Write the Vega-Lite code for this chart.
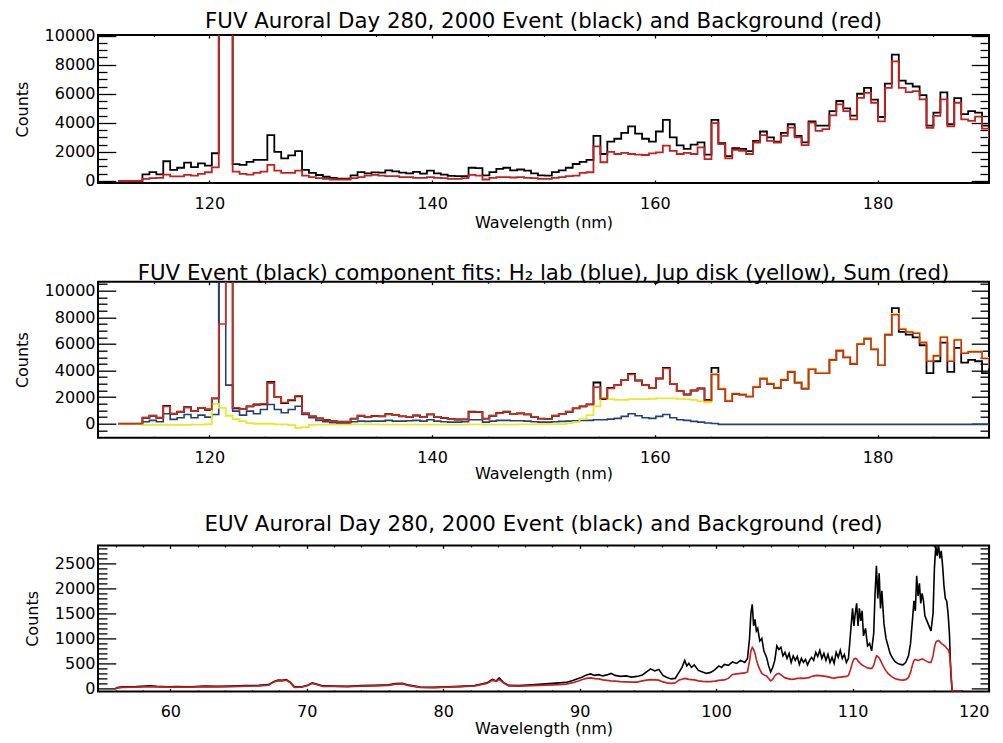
{
  "$schema": "https://vega.github.io/schema/vega-lite/v6.json",
  "background": "white",
  "padding": {"left": 13, "top": 10, "right": 5, "bottom": 0},
  "spacing": 30.7,
  "config": {
    "font": "DejaVu Sans",
    "view": {"stroke": "black", "strokeWidth": 2},
    "axis": {
      "domain": false,
      "grid": false,
      "tickColor": "black",
      "tickWidth": 1.3,
      "labelColor": "black",
      "labelFont": "DejaVu Sans",
      "labelFontSize": 16,
      "titleColor": "black",
      "titleFont": "DejaVu Sans",
      "titleFontSize": 16,
      "titleFontWeight": "normal"
    },
    "title": {"font": "DejaVu Sans", "fontSize": 21.3, "fontWeight": "normal", "color": "black", "anchor": "middle", "baseline": "alphabetic"}
  },
  "datasets": {
    "fuv": [
      {"wl": 111.81, "ev": 0, "bg": 0, "h2": 0, "dk": 0, "sm": 0},
      {"wl": 112.43, "ev": 0, "bg": 0, "h2": 0, "dk": 0, "sm": 0},
      {"wl": 113.06, "ev": 0, "bg": 0, "h2": 0, "dk": 0, "sm": 0},
      {"wl": 113.68, "ev": 0, "bg": 0, "h2": 0, "dk": 0, "sm": 0},
      {"wl": 114.30, "ev": 450, "bg": 140, "h2": 150, "dk": -80, "sm": 450},
      {"wl": 114.93, "ev": 600, "bg": 180, "h2": 250, "dk": -80, "sm": 600},
      {"wl": 115.55, "ev": 450, "bg": 200, "h2": 150, "dk": -90, "sm": 450},
      {"wl": 116.17, "ev": 1350, "bg": 430, "h2": 750, "dk": -80, "sm": 1300},
      {"wl": 116.79, "ev": 750, "bg": 300, "h2": 325, "dk": -90, "sm": 750},
      {"wl": 117.42, "ev": 900, "bg": 300, "h2": 450, "dk": -80, "sm": 900},
      {"wl": 118.04, "ev": 1250, "bg": 410, "h2": 700, "dk": -80, "sm": 1200},
      {"wl": 118.66, "ev": 950, "bg": 360, "h2": 450, "dk": -70, "sm": 950},
      {"wl": 119.29, "ev": 1200, "bg": 480, "h2": 650, "dk": -60, "sm": 1200},
      {"wl": 119.91, "ev": 1050, "bg": 590, "h2": 500, "dk": -40, "sm": 1100},
      {"wl": 120.53, "ev": 1900, "bg": 930, "h2": 700, "dk": 1500, "sm": 1900},
      {"wl": 121.16, "ev": 40000, "bg": 40000, "h2": 40000, "dk": 1200, "sm": 7500},
      {"wl": 121.78, "ev": 40000, "bg": 40000, "h2": 2900, "dk": 600, "sm": 40000},
      {"wl": 122.40, "ev": 1150, "bg": 640, "h2": 950, "dk": 350, "sm": 1200},
      {"wl": 123.02, "ev": 1100, "bg": 480, "h2": 650, "dk": 200, "sm": 1100},
      {"wl": 123.65, "ev": 1300, "bg": 430, "h2": 950, "dk": 50, "sm": 1300},
      {"wl": 124.27, "ev": 1450, "bg": 550, "h2": 750, "dk": 0, "sm": 1400},
      {"wl": 124.89, "ev": 1450, "bg": 640, "h2": 1070, "dk": 0, "sm": 1500},
      {"wl": 125.52, "ev": 3150, "bg": 1100, "h2": 1450, "dk": 0, "sm": 3050},
      {"wl": 126.14, "ev": 2000, "bg": 700, "h2": 1070, "dk": -50, "sm": 2000},
      {"wl": 126.76, "ev": 1550, "bg": 550, "h2": 825, "dk": -50, "sm": 1600},
      {"wl": 127.39, "ev": 1750, "bg": 550, "h2": 1070, "dk": -100, "sm": 1800},
      {"wl": 128.01, "ev": 2050, "bg": 700, "h2": 1320, "dk": -300, "sm": 2100},
      {"wl": 128.63, "ev": 750, "bg": 360, "h2": 700, "dk": -250, "sm": 800},
      {"wl": 129.25, "ev": 550, "bg": 250, "h2": 450, "dk": -80, "sm": 550},
      {"wl": 129.88, "ev": 400, "bg": 180, "h2": 250, "dk": -60, "sm": 400},
      {"wl": 130.50, "ev": 280, "bg": 140, "h2": 150, "dk": -60, "sm": 280},
      {"wl": 131.12, "ev": 200, "bg": 90, "h2": 75, "dk": -60, "sm": 200},
      {"wl": 131.75, "ev": 150, "bg": 90, "h2": 25, "dk": -60, "sm": 150},
      {"wl": 132.37, "ev": 150, "bg": 90, "h2": 25, "dk": -60, "sm": 150},
      {"wl": 132.99, "ev": 380, "bg": 180, "h2": 150, "dk": -50, "sm": 380},
      {"wl": 133.62, "ev": 600, "bg": 250, "h2": 200, "dk": -50, "sm": 600},
      {"wl": 134.24, "ev": 520, "bg": 360, "h2": 180, "dk": -50, "sm": 520},
      {"wl": 134.86, "ev": 580, "bg": 410, "h2": 200, "dk": -50, "sm": 580},
      {"wl": 135.48, "ev": 560, "bg": 360, "h2": 200, "dk": -60, "sm": 560},
      {"wl": 136.11, "ev": 720, "bg": 320, "h2": 250, "dk": -60, "sm": 700},
      {"wl": 136.73, "ev": 650, "bg": 320, "h2": 200, "dk": -60, "sm": 650},
      {"wl": 137.35, "ev": 560, "bg": 250, "h2": 200, "dk": -60, "sm": 560},
      {"wl": 137.98, "ev": 520, "bg": 250, "h2": 220, "dk": -60, "sm": 520},
      {"wl": 138.60, "ev": 620, "bg": 200, "h2": 250, "dk": -60, "sm": 620},
      {"wl": 139.22, "ev": 500, "bg": 200, "h2": 200, "dk": -60, "sm": 500},
      {"wl": 139.85, "ev": 700, "bg": 250, "h2": 300, "dk": -60, "sm": 700},
      {"wl": 140.47, "ev": 520, "bg": 200, "h2": 200, "dk": -60, "sm": 520},
      {"wl": 141.09, "ev": 430, "bg": 180, "h2": 150, "dk": -60, "sm": 430},
      {"wl": 141.71, "ev": 340, "bg": 140, "h2": 120, "dk": -60, "sm": 340},
      {"wl": 142.34, "ev": 320, "bg": 140, "h2": 120, "dk": -60, "sm": 320},
      {"wl": 142.96, "ev": 330, "bg": 180, "h2": 150, "dk": -60, "sm": 330},
      {"wl": 143.58, "ev": 900, "bg": 410, "h2": 300, "dk": -50, "sm": 880},
      {"wl": 144.21, "ev": 880, "bg": 360, "h2": 300, "dk": -50, "sm": 880},
      {"wl": 144.83, "ev": 380, "bg": 90, "h2": 120, "dk": -60, "sm": 380},
      {"wl": 145.45, "ev": 600, "bg": 200, "h2": 200, "dk": -60, "sm": 600},
      {"wl": 146.08, "ev": 820, "bg": 250, "h2": 250, "dk": -60, "sm": 800},
      {"wl": 146.70, "ev": 900, "bg": 250, "h2": 250, "dk": -60, "sm": 880},
      {"wl": 147.32, "ev": 720, "bg": 230, "h2": 220, "dk": -60, "sm": 720},
      {"wl": 147.94, "ev": 780, "bg": 250, "h2": 220, "dk": -50, "sm": 780},
      {"wl": 148.57, "ev": 700, "bg": 200, "h2": 200, "dk": -50, "sm": 700},
      {"wl": 149.19, "ev": 520, "bg": 180, "h2": 150, "dk": -50, "sm": 520},
      {"wl": 149.81, "ev": 380, "bg": 140, "h2": 120, "dk": -40, "sm": 380},
      {"wl": 150.44, "ev": 360, "bg": 140, "h2": 120, "dk": -40, "sm": 360},
      {"wl": 151.06, "ev": 600, "bg": 200, "h2": 150, "dk": -30, "sm": 600},
      {"wl": 151.68, "ev": 720, "bg": 250, "h2": 180, "dk": -30, "sm": 720},
      {"wl": 152.31, "ev": 900, "bg": 320, "h2": 200, "dk": 30, "sm": 900},
      {"wl": 152.93, "ev": 1160, "bg": 360, "h2": 220, "dk": 120, "sm": 1160},
      {"wl": 153.55, "ev": 1300, "bg": 550, "h2": 250, "dk": 350, "sm": 1300},
      {"wl": 154.17, "ev": 1450, "bg": 590, "h2": 250, "dk": 650, "sm": 1450},
      {"wl": 154.80, "ev": 3100, "bg": 2370, "h2": 300, "dk": 1300, "sm": 2750},
      {"wl": 155.42, "ev": 1850, "bg": 1280, "h2": 300, "dk": 1950, "sm": 1900},
      {"wl": 156.04, "ev": 2700, "bg": 2000, "h2": 350, "dk": 1850, "sm": 2650},
      {"wl": 156.67, "ev": 2900, "bg": 1850, "h2": 400, "dk": 1800, "sm": 2900},
      {"wl": 157.29, "ev": 3300, "bg": 1920, "h2": 550, "dk": 1800, "sm": 3300},
      {"wl": 157.91, "ev": 3750, "bg": 1850, "h2": 750, "dk": 1850, "sm": 3700},
      {"wl": 158.54, "ev": 3250, "bg": 1800, "h2": 600, "dk": 1850, "sm": 3250},
      {"wl": 159.16, "ev": 2900, "bg": 1780, "h2": 450, "dk": 1850, "sm": 2900},
      {"wl": 159.78, "ev": 2700, "bg": 1890, "h2": 400, "dk": 1880, "sm": 2700},
      {"wl": 160.40, "ev": 3400, "bg": 1960, "h2": 550, "dk": 1900, "sm": 3400},
      {"wl": 161.03, "ev": 4200, "bg": 2420, "h2": 700, "dk": 1900, "sm": 4150},
      {"wl": 161.65, "ev": 3000, "bg": 2070, "h2": 450, "dk": 1900, "sm": 3000},
      {"wl": 162.27, "ev": 2450, "bg": 1850, "h2": 300, "dk": 1870, "sm": 2450},
      {"wl": 162.90, "ev": 2200, "bg": 1920, "h2": 250, "dk": 1850, "sm": 2200},
      {"wl": 163.52, "ev": 2500, "bg": 1850, "h2": 180, "dk": 1800, "sm": 2500},
      {"wl": 164.14, "ev": 2650, "bg": 2300, "h2": 120, "dk": 1700, "sm": 2650},
      {"wl": 164.77, "ev": 1800, "bg": 1500, "h2": 60, "dk": 1600, "sm": 1750},
      {"wl": 165.39, "ev": 4200, "bg": 3970, "h2": 20, "dk": 3750, "sm": 3700},
      {"wl": 166.01, "ev": 2600, "bg": 2530, "h2": -50, "dk": 2650, "sm": 2600},
      {"wl": 166.63, "ev": 1700, "bg": 1550, "h2": -50, "dk": 1750, "sm": 1700},
      {"wl": 167.26, "ev": 2250, "bg": 2140, "h2": -50, "dk": 2300, "sm": 2250},
      {"wl": 167.88, "ev": 2200, "bg": 2070, "h2": -50, "dk": 2250, "sm": 2200},
      {"wl": 168.50, "ev": 2050, "bg": 1850, "h2": -50, "dk": 2100, "sm": 2050},
      {"wl": 169.13, "ev": 2750, "bg": 2640, "h2": -50, "dk": 2800, "sm": 2750},
      {"wl": 169.75, "ev": 3400, "bg": 3150, "h2": -50, "dk": 3450, "sm": 3400},
      {"wl": 170.37, "ev": 3000, "bg": 2760, "h2": -50, "dk": 3050, "sm": 3000},
      {"wl": 171.00, "ev": 2700, "bg": 2640, "h2": -50, "dk": 2750, "sm": 2700},
      {"wl": 171.62, "ev": 3300, "bg": 3100, "h2": -50, "dk": 3350, "sm": 3300},
      {"wl": 172.24, "ev": 3900, "bg": 3670, "h2": -50, "dk": 3950, "sm": 3900},
      {"wl": 172.86, "ev": 3100, "bg": 2990, "h2": -50, "dk": 3150, "sm": 3100},
      {"wl": 173.49, "ev": 2650, "bg": 2460, "h2": -50, "dk": 2700, "sm": 2650},
      {"wl": 174.11, "ev": 4100, "bg": 4010, "h2": -50, "dk": 4150, "sm": 4100},
      {"wl": 174.73, "ev": 3800, "bg": 3440, "h2": -50, "dk": 3850, "sm": 3800},
      {"wl": 175.36, "ev": 3800, "bg": 3560, "h2": -50, "dk": 3850, "sm": 3800},
      {"wl": 175.98, "ev": 4800, "bg": 4510, "h2": -50, "dk": 4850, "sm": 4800},
      {"wl": 176.60, "ev": 5500, "bg": 5270, "h2": -50, "dk": 5550, "sm": 5500},
      {"wl": 177.23, "ev": 5000, "bg": 4810, "h2": -50, "dk": 5050, "sm": 5000},
      {"wl": 177.85, "ev": 4500, "bg": 4240, "h2": -50, "dk": 4550, "sm": 4500},
      {"wl": 178.47, "ev": 6000, "bg": 5720, "h2": -50, "dk": 6050, "sm": 6000},
      {"wl": 179.09, "ev": 6400, "bg": 6060, "h2": -50, "dk": 6450, "sm": 6400},
      {"wl": 179.72, "ev": 5600, "bg": 5380, "h2": -50, "dk": 5650, "sm": 5600},
      {"wl": 180.34, "ev": 4400, "bg": 4100, "h2": -50, "dk": 4450, "sm": 4400},
      {"wl": 180.96, "ev": 6700, "bg": 6400, "h2": -50, "dk": 6750, "sm": 6700},
      {"wl": 181.59, "ev": 8700, "bg": 8230, "h2": -50, "dk": 8250, "sm": 8200},
      {"wl": 182.21, "ev": 6900, "bg": 6400, "h2": -50, "dk": 7150, "sm": 7100},
      {"wl": 182.83, "ev": 6700, "bg": 6110, "h2": -50, "dk": 6950, "sm": 6900},
      {"wl": 183.46, "ev": 6500, "bg": 6180, "h2": -50, "dk": 6850, "sm": 6800},
      {"wl": 184.08, "ev": 5900, "bg": 5610, "h2": -50, "dk": 6150, "sm": 6100},
      {"wl": 184.70, "ev": 3800, "bg": 3650, "h2": -50, "dk": 4750, "sm": 4700},
      {"wl": 185.32, "ev": 4700, "bg": 4470, "h2": -50, "dk": 5150, "sm": 5100},
      {"wl": 185.95, "ev": 6100, "bg": 5610, "h2": -50, "dk": 6550, "sm": 6500},
      {"wl": 186.57, "ev": 3900, "bg": 3750, "h2": -50, "dk": 4750, "sm": 4700},
      {"wl": 187.19, "ev": 5700, "bg": 5380, "h2": -50, "dk": 6350, "sm": 6300},
      {"wl": 187.82, "ev": 4600, "bg": 4240, "h2": -50, "dk": 5350, "sm": 5300},
      {"wl": 188.44, "ev": 4800, "bg": 4130, "h2": -50, "dk": 5450, "sm": 5400},
      {"wl": 189.06, "ev": 4700, "bg": 4420, "h2": -50, "dk": 5450, "sm": 5400},
      {"wl": 189.69, "ev": 3800, "bg": 3600, "h2": -50, "dk": 4950, "sm": 4900},
      {"wl": 190.31, "ev": 3100, "bg": 2900, "h2": -50, "dk": 4250, "sm": 4200},
      {"wl": 190.93, "ev": 3000, "bg": 2700, "h2": -50, "dk": 4050, "sm": 4000}
    ],
    "euv": [
      {"wl": 56.0, "ev": 10, "bg": 5},
      {"wl": 56.5, "ev": 30, "bg": 20},
      {"wl": 57.5, "ev": 35, "bg": 25},
      {"wl": 58.5, "ev": 50, "bg": 35},
      {"wl": 59.0, "ev": 40, "bg": 30},
      {"wl": 59.8, "ev": 30, "bg": 25},
      {"wl": 60.5, "ev": 35, "bg": 25},
      {"wl": 61.5, "ev": 30, "bg": 25},
      {"wl": 62.5, "ev": 45, "bg": 35},
      {"wl": 63.5, "ev": 40, "bg": 30},
      {"wl": 64.5, "ev": 45, "bg": 35},
      {"wl": 65.5, "ev": 55, "bg": 45},
      {"wl": 66.5, "ev": 60, "bg": 50},
      {"wl": 67.2, "ev": 75, "bg": 65},
      {"wl": 67.6, "ev": 140, "bg": 130},
      {"wl": 67.9, "ev": 165, "bg": 155},
      {"wl": 68.2, "ev": 160, "bg": 150},
      {"wl": 68.5, "ev": 175, "bg": 165},
      {"wl": 68.8, "ev": 120, "bg": 110},
      {"wl": 69.1, "ev": 30, "bg": 20},
      {"wl": 69.6, "ev": 30, "bg": 25},
      {"wl": 70.1, "ev": 70, "bg": 60},
      {"wl": 70.4, "ev": 110, "bg": 100},
      {"wl": 70.7, "ev": 90, "bg": 80},
      {"wl": 71.2, "ev": 50, "bg": 40},
      {"wl": 72.0, "ev": 45, "bg": 40},
      {"wl": 73.0, "ev": 40, "bg": 35},
      {"wl": 74.0, "ev": 55, "bg": 45},
      {"wl": 75.0, "ev": 60, "bg": 50},
      {"wl": 76.0, "ev": 70, "bg": 60},
      {"wl": 76.5, "ev": 95, "bg": 85},
      {"wl": 77.0, "ev": 100, "bg": 90},
      {"wl": 77.5, "ev": 65, "bg": 55},
      {"wl": 78.3, "ev": 25, "bg": 20},
      {"wl": 79.3, "ev": 20, "bg": 15},
      {"wl": 80.3, "ev": 30, "bg": 25},
      {"wl": 81.3, "ev": 40, "bg": 35},
      {"wl": 82.3, "ev": 55, "bg": 50},
      {"wl": 83.2, "ev": 110, "bg": 100},
      {"wl": 83.6, "ev": 180, "bg": 160},
      {"wl": 83.9, "ev": 150, "bg": 140},
      {"wl": 84.1, "ev": 210, "bg": 180},
      {"wl": 84.4, "ev": 120, "bg": 110},
      {"wl": 84.8, "ev": 60, "bg": 50},
      {"wl": 85.5, "ev": 55, "bg": 45},
      {"wl": 86.5, "ev": 70, "bg": 55},
      {"wl": 87.5, "ev": 90, "bg": 65},
      {"wl": 88.5, "ev": 110, "bg": 75},
      {"wl": 89.0, "ev": 120, "bg": 85},
      {"wl": 89.5, "ev": 160, "bg": 115},
      {"wl": 89.9, "ev": 200, "bg": 150},
      {"wl": 90.2, "ev": 230, "bg": 180},
      {"wl": 90.5, "ev": 270, "bg": 200},
      {"wl": 90.8, "ev": 290, "bg": 210},
      {"wl": 91.1, "ev": 260, "bg": 195},
      {"wl": 91.4, "ev": 275, "bg": 190},
      {"wl": 91.7, "ev": 250, "bg": 170},
      {"wl": 92.0, "ev": 270, "bg": 160},
      {"wl": 92.3, "ev": 300, "bg": 150},
      {"wl": 92.6, "ev": 260, "bg": 145},
      {"wl": 93.0, "ev": 240, "bg": 135},
      {"wl": 93.4, "ev": 250, "bg": 130},
      {"wl": 93.8, "ev": 225, "bg": 125},
      {"wl": 94.2, "ev": 240, "bg": 125},
      {"wl": 94.6, "ev": 270, "bg": 150},
      {"wl": 94.9, "ev": 330, "bg": 165},
      {"wl": 95.2, "ev": 390, "bg": 175},
      {"wl": 95.5, "ev": 350, "bg": 170},
      {"wl": 95.8, "ev": 380, "bg": 165},
      {"wl": 96.1, "ev": 260, "bg": 130},
      {"wl": 96.4, "ev": 220, "bg": 110},
      {"wl": 96.7, "ev": 190, "bg": 100},
      {"wl": 97.0, "ev": 200, "bg": 110},
      {"wl": 97.3, "ev": 330, "bg": 170},
      {"wl": 97.5, "ev": 420, "bg": 185},
      {"wl": 97.7, "ev": 560, "bg": 200},
      {"wl": 97.85, "ev": 450, "bg": 190},
      {"wl": 98.0, "ev": 500, "bg": 180},
      {"wl": 98.2, "ev": 420, "bg": 175},
      {"wl": 98.4, "ev": 470, "bg": 170},
      {"wl": 98.7, "ev": 360, "bg": 150},
      {"wl": 99.0, "ev": 330, "bg": 140},
      {"wl": 99.3, "ev": 300, "bg": 135},
      {"wl": 99.6, "ev": 320, "bg": 135},
      {"wl": 99.9, "ev": 370, "bg": 145},
      {"wl": 100.2, "ev": 450, "bg": 160},
      {"wl": 100.4, "ev": 420, "bg": 165},
      {"wl": 100.6, "ev": 480, "bg": 170},
      {"wl": 100.9, "ev": 460, "bg": 200},
      {"wl": 101.2, "ev": 530, "bg": 280},
      {"wl": 101.5, "ev": 500, "bg": 290},
      {"wl": 101.8, "ev": 560, "bg": 300},
      {"wl": 102.1, "ev": 520, "bg": 310},
      {"wl": 102.3, "ev": 600, "bg": 330},
      {"wl": 102.45, "ev": 1000, "bg": 550},
      {"wl": 102.55, "ev": 1500, "bg": 750},
      {"wl": 102.65, "ev": 1680, "bg": 820},
      {"wl": 102.75, "ev": 1250, "bg": 780},
      {"wl": 102.85, "ev": 1380, "bg": 700},
      {"wl": 102.95, "ev": 1150, "bg": 580},
      {"wl": 103.05, "ev": 1200, "bg": 480},
      {"wl": 103.2, "ev": 950, "bg": 380},
      {"wl": 103.35, "ev": 1000, "bg": 300},
      {"wl": 103.5, "ev": 750, "bg": 270},
      {"wl": 103.7, "ev": 620, "bg": 250},
      {"wl": 103.85, "ev": 450, "bg": 200},
      {"wl": 104.0, "ev": 330, "bg": 150},
      {"wl": 104.15, "ev": 420, "bg": 180},
      {"wl": 104.3, "ev": 560, "bg": 250},
      {"wl": 104.45, "ev": 850, "bg": 290},
      {"wl": 104.6, "ev": 780, "bg": 300},
      {"wl": 104.75, "ev": 820, "bg": 270},
      {"wl": 104.9, "ev": 650, "bg": 240},
      {"wl": 105.05, "ev": 720, "bg": 210},
      {"wl": 105.2, "ev": 600, "bg": 200},
      {"wl": 105.35, "ev": 700, "bg": 190},
      {"wl": 105.5, "ev": 520, "bg": 180},
      {"wl": 105.65, "ev": 650, "bg": 185},
      {"wl": 105.8, "ev": 560, "bg": 190},
      {"wl": 105.95, "ev": 640, "bg": 200},
      {"wl": 106.1, "ev": 480, "bg": 200},
      {"wl": 106.25, "ev": 600, "bg": 205},
      {"wl": 106.4, "ev": 520, "bg": 200},
      {"wl": 106.55, "ev": 580, "bg": 205},
      {"wl": 106.7, "ev": 470, "bg": 210},
      {"wl": 106.85, "ev": 560, "bg": 220},
      {"wl": 107.0, "ev": 620, "bg": 240},
      {"wl": 107.15, "ev": 560, "bg": 250},
      {"wl": 107.3, "ev": 720, "bg": 255},
      {"wl": 107.45, "ev": 640, "bg": 260},
      {"wl": 107.6, "ev": 760, "bg": 255},
      {"wl": 107.75, "ev": 600, "bg": 250},
      {"wl": 107.9, "ev": 700, "bg": 245},
      {"wl": 108.05, "ev": 560, "bg": 240},
      {"wl": 108.2, "ev": 680, "bg": 230},
      {"wl": 108.35, "ev": 520, "bg": 220},
      {"wl": 108.5, "ev": 620, "bg": 210},
      {"wl": 108.65, "ev": 500, "bg": 205},
      {"wl": 108.8, "ev": 720, "bg": 215},
      {"wl": 108.95, "ev": 620, "bg": 220},
      {"wl": 109.1, "ev": 760, "bg": 225},
      {"wl": 109.25, "ev": 600, "bg": 230},
      {"wl": 109.4, "ev": 680, "bg": 235},
      {"wl": 109.55, "ev": 520, "bg": 240},
      {"wl": 109.7, "ev": 600, "bg": 260},
      {"wl": 109.85, "ev": 1100, "bg": 380},
      {"wl": 110.0, "ev": 1600, "bg": 520},
      {"wl": 110.1, "ev": 1250, "bg": 590},
      {"wl": 110.2, "ev": 1500, "bg": 600},
      {"wl": 110.3, "ev": 1700, "bg": 590},
      {"wl": 110.4, "ev": 1250, "bg": 550},
      {"wl": 110.5, "ev": 1600, "bg": 520},
      {"wl": 110.6, "ev": 1350, "bg": 490},
      {"wl": 110.7, "ev": 1550, "bg": 470},
      {"wl": 110.8, "ev": 1050, "bg": 450},
      {"wl": 110.95, "ev": 1200, "bg": 430},
      {"wl": 111.1, "ev": 850, "bg": 410},
      {"wl": 111.25, "ev": 900, "bg": 400},
      {"wl": 111.4, "ev": 750, "bg": 400},
      {"wl": 111.55, "ev": 1100, "bg": 460},
      {"wl": 111.65, "ev": 1900, "bg": 560},
      {"wl": 111.75, "ev": 2450, "bg": 650},
      {"wl": 111.85, "ev": 1800, "bg": 640},
      {"wl": 111.95, "ev": 2300, "bg": 610},
      {"wl": 112.05, "ev": 1600, "bg": 560},
      {"wl": 112.15, "ev": 1950, "bg": 500},
      {"wl": 112.3, "ev": 1300, "bg": 420},
      {"wl": 112.45, "ev": 1000, "bg": 350},
      {"wl": 112.6, "ev": 850, "bg": 300},
      {"wl": 112.75, "ev": 700, "bg": 260},
      {"wl": 112.9, "ev": 620, "bg": 230},
      {"wl": 113.1, "ev": 540, "bg": 200},
      {"wl": 113.3, "ev": 500, "bg": 180},
      {"wl": 113.5, "ev": 480, "bg": 170},
      {"wl": 113.7, "ev": 470, "bg": 165},
      {"wl": 113.9, "ev": 520, "bg": 175},
      {"wl": 114.1, "ev": 650, "bg": 220},
      {"wl": 114.25, "ev": 900, "bg": 320},
      {"wl": 114.4, "ev": 1400, "bg": 480},
      {"wl": 114.5, "ev": 1750, "bg": 560},
      {"wl": 114.6, "ev": 1550, "bg": 580},
      {"wl": 114.7, "ev": 2250, "bg": 570},
      {"wl": 114.8, "ev": 1850, "bg": 560},
      {"wl": 114.9, "ev": 2100, "bg": 570},
      {"wl": 115.0, "ev": 1700, "bg": 580},
      {"wl": 115.1, "ev": 1900, "bg": 590},
      {"wl": 115.2, "ev": 1750, "bg": 580},
      {"wl": 115.3, "ev": 1450, "bg": 560},
      {"wl": 115.45, "ev": 1350, "bg": 540},
      {"wl": 115.6, "ev": 1250, "bg": 520},
      {"wl": 115.75, "ev": 1150, "bg": 520},
      {"wl": 115.9, "ev": 1500, "bg": 650},
      {"wl": 116.0, "ev": 2400, "bg": 820},
      {"wl": 116.1, "ev": 2850, "bg": 920},
      {"wl": 116.2, "ev": 2650, "bg": 950},
      {"wl": 116.3, "ev": 2880, "bg": 960},
      {"wl": 116.4, "ev": 2600, "bg": 930},
      {"wl": 116.5, "ev": 2750, "bg": 900},
      {"wl": 116.6, "ev": 2450, "bg": 880},
      {"wl": 116.7, "ev": 2050, "bg": 860},
      {"wl": 116.8, "ev": 1800, "bg": 840},
      {"wl": 116.9, "ev": 1750, "bg": 800},
      {"wl": 117.0, "ev": 1500, "bg": 780},
      {"wl": 117.1, "ev": 1100, "bg": 700},
      {"wl": 117.2, "ev": 300, "bg": 400},
      {"wl": 117.3, "ev": -60, "bg": -60},
      {"wl": 118.0, "ev": -60, "bg": -60}
    ]
  },
  "vconcat": [
    {
      "title": {"text": "FUV Auroral Day 280, 2000 Event (black) and Background (red)", "offset": -5},
      "width": 891,
      "height": 148,
      "data": {"name": "fuv"},
      "resolve": {"axis": {"x": "independent", "y": "independent"}},
      "layer": [
        {
          "mark": {"type": "line", "interpolate": "step", "clip": true, "color": "black", "strokeWidth": 1.8},
          "encoding": {
            "x": {"field": "wl", "type": "quantitative", "scale": {"domain": [110, 190], "nice": false},
              "axis": {"orient": "bottom", "values": [120, 140, 160, 180], "format": "d", "tickSize": -3, "labelPadding": 15, "title": "Wavelength (nm)", "titlePadding": 3}},
            "y": {"field": "ev", "type": "quantitative", "scale": {"domain": [-150, 10050], "nice": false},
              "axis": {"orient": "left", "values": [0, 2000, 4000, 6000, 8000, 10000], "format": "d", "tickSize": -17.8, "labelPadding": 20.8, "title": "Counts", "titlePadding": 14}}
          }
        },
        {
          "mark": {"type": "line", "interpolate": "step", "clip": true, "color": "#c81e1e", "strokeWidth": 1.8},
          "encoding": {
            "x": {"field": "wl", "type": "quantitative", "axis": null},
            "y": {"field": "bg", "type": "quantitative", "axis": null}
          }
        },
        {
          "mark": {"type": "line", "strokeOpacity": 0, "clip": true},
          "encoding": {
            "x": {"field": "wl", "type": "quantitative", "axis": {"orient": "top", "values": [120, 140, 160, 180], "labels": false, "tickSize": -3, "title": null}},
            "y": {"field": "ev", "type": "quantitative", "axis": {"orient": "right", "values": [0, 2000, 4000, 6000, 8000, 10000], "labels": false, "tickSize": -17.8, "title": null}}
          }
        },
        {
          "mark": {"type": "line", "strokeOpacity": 0, "clip": true},
          "encoding": {
            "x": {"field": "wl", "type": "quantitative", "axis": {"orient": "bottom", "values": [115, 125, 130, 135, 145, 150, 155, 165, 170, 175, 185], "labels": false, "tickSize": -1.5, "title": null}},
            "y": {"field": "ev", "type": "quantitative", "axis": {"orient": "left", "values": [500, 1000, 1500, 2500, 3000, 3500, 4500, 5000, 5500, 6500, 7000, 7500, 8500, 9000, 9500], "labels": false, "tickSize": -9, "title": null}}
          }
        },
        {
          "mark": {"type": "line", "strokeOpacity": 0, "clip": true},
          "encoding": {
            "x": {"field": "wl", "type": "quantitative", "axis": {"orient": "top", "values": [115, 125, 130, 135, 145, 150, 155, 165, 170, 175, 185], "labels": false, "tickSize": -1.5, "title": null}},
            "y": {"field": "ev", "type": "quantitative", "axis": {"orient": "right", "values": [500, 1000, 1500, 2500, 3000, 3500, 4500, 5000, 5500, 6500, 7000, 7500, 8500, 9000, 9500], "labels": false, "tickSize": -9, "title": null}}
          }
        }
      ]
    },
    {
      "title": {"text": "FUV Event (black) component fits: H₂ lab (blue), Jup disk (yellow), Sum (red)", "offset": -3},
      "width": 891,
      "height": 156,
      "data": {"name": "fuv"},
      "resolve": {"axis": {"x": "independent", "y": "independent"}},
      "layer": [
        {
          "mark": {"type": "line", "interpolate": "step", "clip": true, "color": "black", "strokeWidth": 1.8},
          "encoding": {
            "x": {"field": "wl", "type": "quantitative", "scale": {"domain": [110, 190], "nice": false},
              "axis": {"orient": "bottom", "values": [120, 140, 160, 180], "format": "d", "tickSize": -3, "labelPadding": 15, "title": "Wavelength (nm)", "titlePadding": 0}},
            "y": {"field": "ev", "type": "quantitative", "scale": {"domain": [-1050, 10680], "nice": false},
              "axis": {"orient": "left", "values": [0, 2000, 4000, 6000, 8000, 10000], "format": "d", "tickSize": -17.8, "labelPadding": 20.8, "title": "Counts", "titlePadding": 14}}
          }
        },
        {
          "mark": {"type": "line", "interpolate": "step", "clip": true, "color": "#23407a", "strokeWidth": 1.6},
          "encoding": {
            "x": {"field": "wl", "type": "quantitative", "axis": null},
            "y": {"field": "h2", "type": "quantitative", "axis": null}
          }
        },
        {
          "mark": {"type": "line", "interpolate": "step", "clip": true, "color": "#e8e82a", "strokeWidth": 1.8},
          "encoding": {
            "x": {"field": "wl", "type": "quantitative", "axis": null},
            "y": {"field": "dk", "type": "quantitative", "axis": null}
          }
        },
        {
          "mark": {"type": "line", "interpolate": "step", "clip": true, "color": "#d42a1a", "strokeWidth": 1.6},
          "encoding": {
            "x": {"field": "wl", "type": "quantitative", "axis": null},
            "y": {"field": "sm", "type": "quantitative", "axis": null}
          }
        },
        {
          "mark": {"type": "line", "strokeOpacity": 0, "clip": true},
          "encoding": {
            "x": {"field": "wl", "type": "quantitative", "axis": {"orient": "top", "values": [120, 140, 160, 180], "labels": false, "tickSize": -3, "title": null}},
            "y": {"field": "ev", "type": "quantitative", "axis": {"orient": "right", "values": [0, 2000, 4000, 6000, 8000, 10000], "labels": false, "tickSize": -17.8, "title": null}}
          }
        },
        {
          "mark": {"type": "line", "strokeOpacity": 0, "clip": true},
          "encoding": {
            "x": {"field": "wl", "type": "quantitative", "axis": {"orient": "bottom", "values": [115, 125, 130, 135, 145, 150, 155, 165, 170, 175, 185], "labels": false, "tickSize": -1.5, "title": null}},
            "y": {"field": "ev", "type": "quantitative", "axis": {"orient": "left", "values": [-500, 500, 1000, 1500, 2500, 3000, 3500, 4500, 5000, 5500, 6500, 7000, 7500, 8500, 9000, 9500, 10500], "labels": false, "tickSize": -9, "title": null}}
          }
        },
        {
          "mark": {"type": "line", "strokeOpacity": 0, "clip": true},
          "encoding": {
            "x": {"field": "wl", "type": "quantitative", "axis": {"orient": "top", "values": [115, 125, 130, 135, 145, 150, 155, 165, 170, 175, 185], "labels": false, "tickSize": -1.5, "title": null}},
            "y": {"field": "ev", "type": "quantitative", "axis": {"orient": "right", "values": [-500, 500, 1000, 1500, 2500, 3000, 3500, 4500, 5000, 5500, 6500, 7000, 7500, 8500, 9000, 9500, 10500], "labels": false, "tickSize": -9, "title": null}}
          }
        }
      ]
    },
    {
      "title": {"text": "EUV Auroral Day 280, 2000 Event (black) and Background (red)", "offset": 9},
      "width": 891,
      "height": 146,
      "data": {"name": "euv"},
      "resolve": {"axis": {"x": "independent", "y": "independent"}},
      "layer": [
        {
          "mark": {"type": "line", "clip": true, "color": "black", "strokeWidth": 1.6},
          "encoding": {
            "x": {"field": "wl", "type": "quantitative", "scale": {"domain": [54.7, 120], "nice": false},
              "axis": {"orient": "bottom", "values": [60, 70, 80, 90, 100, 110, 120], "format": "d", "tickSize": -3, "labelPadding": 15, "title": "Wavelength (nm)", "titlePadding": 1}},
            "y": {"field": "ev", "type": "quantitative", "scale": {"domain": [-60, 2860], "nice": false},
              "axis": {"orient": "left", "values": [0, 500, 1000, 1500, 2000, 2500], "format": "d", "tickSize": -17.8, "labelPadding": 20.8, "title": "Counts", "titlePadding": 14}}
          }
        },
        {
          "mark": {"type": "line", "clip": true, "color": "#c81e1e", "strokeWidth": 1.6},
          "encoding": {
            "x": {"field": "wl", "type": "quantitative", "axis": null},
            "y": {"field": "bg", "type": "quantitative", "axis": null}
          }
        },
        {
          "mark": {"type": "line", "strokeOpacity": 0, "clip": true},
          "encoding": {
            "x": {"field": "wl", "type": "quantitative", "axis": {"orient": "top", "values": [60, 70, 80, 90, 100, 110, 120], "labels": false, "tickSize": -3, "title": null}},
            "y": {"field": "ev", "type": "quantitative", "axis": {"orient": "right", "values": [0, 500, 1000, 1500, 2000, 2500], "labels": false, "tickSize": -17.8, "title": null}}
          }
        },
        {
          "mark": {"type": "line", "strokeOpacity": 0, "clip": true},
          "encoding": {
            "x": {"field": "wl", "type": "quantitative", "axis": {"orient": "bottom", "values": [56, 58, 62, 64, 66, 68, 72, 74, 76, 78, 82, 84, 86, 88, 92, 94, 96, 98, 102, 104, 106, 108, 112, 114, 116, 118], "labels": false, "tickSize": -1.5, "title": null}},
            "y": {"field": "ev", "type": "quantitative", "axis": {"orient": "left", "values": [100, 200, 300, 400, 600, 700, 800, 900, 1100, 1200, 1300, 1400, 1600, 1700, 1800, 1900, 2100, 2200, 2300, 2400, 2600, 2700, 2800], "labels": false, "tickSize": -9, "title": null}}
          }
        },
        {
          "mark": {"type": "line", "strokeOpacity": 0, "clip": true},
          "encoding": {
            "x": {"field": "wl", "type": "quantitative", "axis": {"orient": "top", "values": [56, 58, 62, 64, 66, 68, 72, 74, 76, 78, 82, 84, 86, 88, 92, 94, 96, 98, 102, 104, 106, 108, 112, 114, 116, 118], "labels": false, "tickSize": -1.5, "title": null}},
            "y": {"field": "ev", "type": "quantitative", "axis": {"orient": "right", "values": [100, 200, 300, 400, 600, 700, 800, 900, 1100, 1200, 1300, 1400, 1600, 1700, 1800, 1900, 2100, 2200, 2300, 2400, 2600, 2700, 2800], "labels": false, "tickSize": -9, "title": null}}
          }
        }
      ]
    }
  ]
}
